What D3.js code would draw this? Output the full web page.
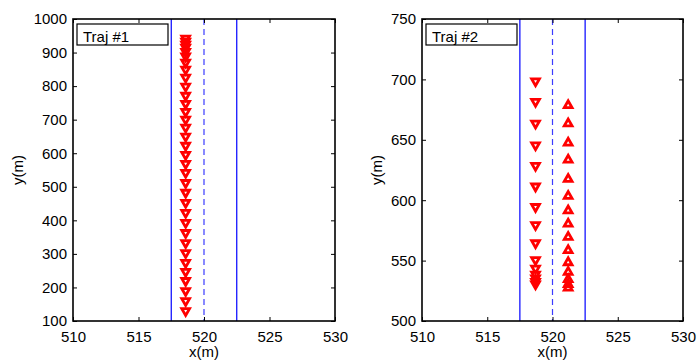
<!DOCTYPE html>
<html><head><meta charset="utf-8">
<script src="https://cdn.jsdelivr.net/npm/d3@7"></script>
<style>body{margin:0;background:#fff}svg{display:block}text{font-family:"Liberation Sans",Arial,sans-serif;fill:#000}</style>
</head><body><svg id="c" width="699" height="361"></svg>
<script>
// Data
const xTicks = [510, 515, 520, 525, 530];
const yTicks1 = [100, 200, 300, 400, 500, 600, 700, 800, 900, 1000];
const yTicks2 = [500, 550, 600, 650, 700, 750];
const laneLines = [517.5, 522.5];
const laneCenter = [520];
const traj1DownX = 518.6;
const traj1DownY = [940, 931, 922, 913, 901, 887, 869, 848, 824, 797, 770, 746, 722, 699, 675, 648, 621, 594, 567, 540, 510, 481, 451, 421, 391, 361, 331, 301, 272, 245, 218, 188, 158, 128];
const traj2DownX = 518.7;
const traj2DownY = [698, 681, 663, 645, 628, 611, 594, 579, 564, 550, 543, 538, 535, 532, 530];
const traj2UpX = 521.2;
const traj2UpY = [679, 664, 648, 634, 618, 604, 592, 581, 570, 559, 549, 541, 535, 531, 528];

const svg = d3.select("#c");
const panels = [
  {x0:73, x1:335, y0:19, y1:321, ydom:[100,1000], yt:yTicks1, label:"Traj #1", ylabX:18,
   series:[{x:traj1DownX, ys:traj1DownY, dir:"down"}]},
  {x0:422, x1:683, y0:19, y1:321, ydom:[500,750], yt:yTicks2, label:"Traj #2", ylabX:377,
   series:[{x:traj2DownX, ys:traj2DownY, dir:"down"},{x:traj2UpX, ys:traj2UpY, dir:"up"}]}
];

panels.forEach(p => {
  const x = d3.scaleLinear().domain([510,530]).range([p.x0,p.x1]);
  const y = d3.scaleLinear().domain(p.ydom).range([p.y1,p.y0]);
  const g = svg.append("g");
  laneLines.forEach(v => g.append("line").attr("x1",x(v)).attr("x2",x(v)).attr("y1",p.y0).attr("y2",p.y1)
    .attr("stroke","#0000ff").attr("stroke-width",1.2));
  laneCenter.forEach(v => g.append("line").attr("x1",x(v)).attr("x2",x(v)).attr("y1",p.y0).attr("y2",p.y1)
    .attr("stroke","#3b3bff").attr("stroke-width",1.2).attr("stroke-dasharray","6,4"));
  const s = 3.9;
  p.series.forEach(se => {
    g.selectAll(null).data(se.ys).enter().append("path")
      .attr("transform", d => `translate(${x(se.x)},${y(d)})`)
      .attr("d", se.dir==="down"
        ? `M${-s},${-s*0.75}L${s},${-s*0.75}L0,${s*1.0}Z`
        : `M${-s},${s*0.75}L${s},${s*0.75}L0,${-s*1.0}Z`)
      .attr("fill","none").attr("stroke","#ff0000").attr("stroke-width",2.8).attr("stroke-linejoin","miter");
  });
  const ax = g.append("g").attr("transform",`translate(0,${p.y1})`)
    .call(d3.axisBottom(x).tickValues(xTicks).tickSize(-4).tickPadding(10).tickFormat(d3.format("d")));
  const axT = g.append("g").attr("transform",`translate(0,${p.y0})`)
    .call(d3.axisTop(x).tickValues(xTicks).tickSize(-4).tickFormat(""));
  const ay = g.append("g").attr("transform",`translate(${p.x0},0)`)
    .call(d3.axisLeft(y).tickValues(p.yt).tickSize(-4).tickPadding(6).tickFormat(d3.format("d")));
  const ayR = g.append("g").attr("transform",`translate(${p.x1},0)`)
    .call(d3.axisRight(y).tickValues(p.yt).tickSize(-4).tickFormat(""));
  [ax,axT,ay,ayR].forEach(a => {
    a.select(".domain").remove();
    a.selectAll(".tick line").attr("stroke","#000").attr("stroke-width",1);
    a.selectAll("text").style("font-size","15px").attr("fill","#000");
  });
  g.append("rect").attr("x",p.x0).attr("y",p.y0).attr("width",p.x1-p.x0).attr("height",p.y1-p.y0)
    .attr("fill","none").attr("stroke","#000").attr("stroke-width",1.6);
  g.append("rect").attr("x",p.x0+4).attr("y",p.y0+5).attr("width",91).attr("height",21)
    .attr("fill","#fff").attr("stroke","#000").attr("stroke-width",1.2);
  g.append("text").attr("x",p.x0+10).attr("y",p.y0+23).style("font-size","15px").text(p.label);
  g.append("text").attr("x",(p.x0+p.x1)/2).attr("y",357).attr("text-anchor","middle").style("font-size","15px").text("x(m)");
  g.append("text").attr("transform",`translate(${p.ylabX},${(p.y0+p.y1)/2}) rotate(-90)`).attr("text-anchor","middle")
    .attr("dy","0.35em").style("font-size","15px").text("y(m)");
});
</script></body></html>
